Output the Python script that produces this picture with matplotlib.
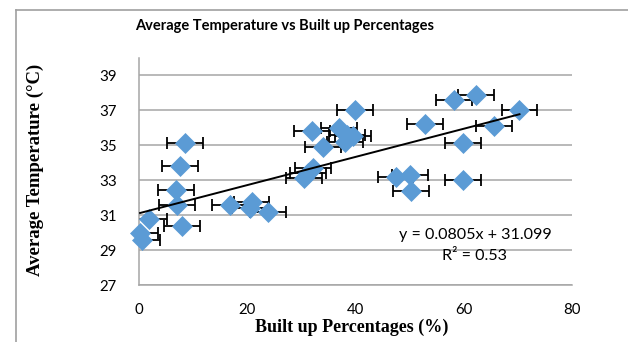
import matplotlib
matplotlib.use("Agg")
import matplotlib.pyplot as plt
from matplotlib.lines import Line2D
import numpy as np

# Data
built_up = [0.2, 0.6, 1.8, 6.8, 7.0, 7.6, 7.9, 8.5, 16.8, 20.8, 20.5, 23.9,
            30.5, 31.2, 32.1, 31.9, 34.0, 37.0, 38.0, 39.6, 39.9, 38.4,
            47.4, 50.1, 50.2, 52.9, 58.2, 59.9, 59.9, 62.3, 65.6, 70.3]
avg_temp = [30.0, 29.6, 30.8, 32.45, 31.6, 33.8, 30.4, 35.1, 31.6, 31.75, 31.4, 31.2,
            33.1, 33.4, 33.7, 35.8, 34.9, 36.0, 35.2, 35.5, 37.0, 35.6,
            33.2, 33.3, 32.4, 36.2, 37.6, 35.1, 33.0, 37.85, 36.1, 37.0]
x_error = 3.3
slope = 0.0805
intercept = 31.099
r_squared = 0.53
y_ticks = [27, 29, 31, 33, 35, 37, 39]
x_ticks = [0, 20, 40, 60, 80]

W, H = 628, 342
fig = plt.figure(figsize=(W / 100, H / 100), dpi=100)
ax = fig.add_axes([139 / W, 1 - 285 / H, (572 - 139) / W, (285 - 57.5) / H])

grid_col = "#A6A6A6"
ax.set_xlim(0, 80)
ax.set_ylim(27, 40)
ax.set_yticks(y_ticks)
ax.set_xticks(x_ticks)
ax.yaxis.grid(True, color=grid_col, linewidth=1.1)
ax.set_axisbelow(True)
for s in ["top", "right"]:
    ax.spines[s].set_visible(False)
for s in ["left", "bottom"]:
    ax.spines[s].set_color(grid_col)
    ax.spines[s].set_linewidth(1.1)
ax.tick_params(length=0)
ax.tick_params(axis="y", pad=16)
ax.tick_params(axis="x", pad=13)
for lab in ax.get_xticklabels() + ax.get_yticklabels():
    lab.set_fontfamily("Lato")
    lab.set_fontsize(10.8)

ax.errorbar(built_up, avg_temp, xerr=x_error, fmt="none", ecolor="black",
            elinewidth=1.3, capsize=4, capthick=1.3, zorder=2)
ax.plot(built_up, avg_temp, linestyle="none", marker="D", markersize=10,
        markerfacecolor="#5B9BD5", markeredgecolor="#5B9BD5", markeredgewidth=0.5,
        zorder=3, clip_on=False)

xt = np.array([min(built_up), max(built_up)])
ax.plot(xt, slope * xt + intercept, color="black", linewidth=1.4, zorder=4)

ax.text(475.5 / W, 1 - 235 / H, f"y = {slope}x + {intercept}", transform=fig.transFigure,
        ha="center", va="center", fontsize=11.6, fontfamily="Lato")
ax.text(475 / W, 1 - 256 / H, f"R² = {r_squared}", transform=fig.transFigure,
        ha="center", va="center", fontsize=11.6, fontfamily="Lato")

fig.text(285 / W, 1 - 26 / H, "Average Temperature vs Built up Percentages",
         ha="center", va="center", fontsize=10.5, fontweight="bold", fontfamily="Lato")
fig.text(352 / W, 1 - 327 / H, "Built up Percentages (%)", ha="center", va="center",
         fontsize=13, fontweight="bold", fontfamily="Liberation Serif")
fig.text(35 / W, 1 - 170 / H, "Average Temperature (°C)", ha="center", va="center",
         rotation=90, fontsize=13.5, fontweight="bold", fontfamily="Liberation Serif")

# chart area frame (left and top edges visible)
fig.add_artist(Line2D([16 / W, 16 / W], [0, 1 - 10 / H], transform=fig.transFigure,
                      color="#A0A0A0", linewidth=1.2))
fig.add_artist(Line2D([16 / W, 1], [1 - 10 / H, 1 - 10 / H], transform=fig.transFigure,
                      color="#A0A0A0", linewidth=1.2))

fig.savefig("out.png", dpi=100)
